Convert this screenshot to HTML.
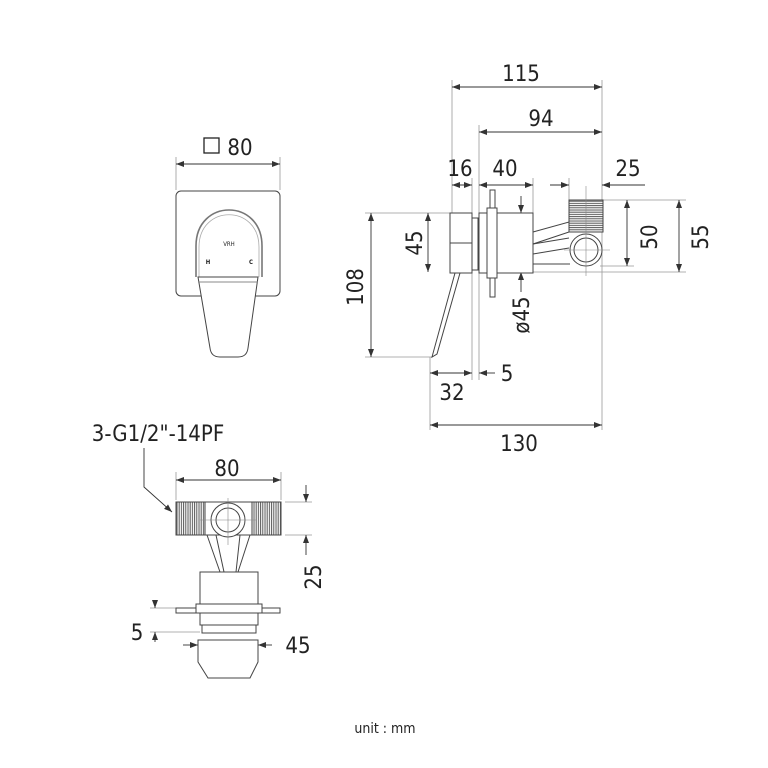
<!DOCTYPE html>
<html><head><style>body{margin:0;background:#fff}svg{display:block}text{font-family:"DejaVu Sans Condensed","DejaVu Sans","Liberation Sans",sans-serif;fill:#222}</style></head><body>
<svg width="768" height="768" viewBox="0 0 768 768" xmlns="http://www.w3.org/2000/svg">
<defs>
<marker id="a" markerWidth="8" markerHeight="6" refX="8" refY="3" orient="auto-start-reverse" markerUnits="userSpaceOnUse"><path d="M0,0L8,3L0,6z" fill="#333"/></marker>
<pattern id="th" width="2.2" height="4" patternUnits="userSpaceOnUse"><rect width="2.2" height="4" fill="#fff"/><line x1="1" y1="0" x2="1" y2="4" stroke="#555" stroke-width="1"/></pattern>
<pattern id="tv" width="4" height="2.2" patternUnits="userSpaceOnUse"><rect width="4" height="2.2" fill="#fff"/><line x1="0" y1="1" x2="4" y2="1" stroke="#555" stroke-width="1"/></pattern>
</defs>
<g stroke="#999" stroke-width="0.8" fill="none">
<line x1="452" y1="80" x2="452" y2="213"/><line x1="479" y1="125" x2="479" y2="380"/><line x1="602" y1="80" x2="602" y2="430"/>
<line x1="472" y1="178" x2="472" y2="380"/><line x1="533" y1="178" x2="533" y2="213"/><line x1="569" y1="178" x2="569" y2="200"/>
<line x1="365" y1="213" x2="450" y2="213"/><line x1="365" y1="357" x2="432" y2="357"/>
<line x1="602" y1="200" x2="686" y2="200"/><line x1="533" y1="272" x2="686" y2="272"/><line x1="600" y1="266" x2="634" y2="266"/>
<line x1="430" y1="357" x2="430" y2="430"/>
<line x1="176" y1="472" x2="176" y2="500"/><line x1="281" y1="472" x2="281" y2="500"/>
<line x1="285" y1="502" x2="312" y2="502"/><line x1="285" y1="535" x2="312" y2="535"/>
<line x1="150" y1="608" x2="195" y2="608"/><line x1="150" y1="632" x2="200" y2="632"/>
<line x1="176" y1="157" x2="176" y2="190"/><line x1="280" y1="157" x2="280" y2="190"/>
</g>
<g stroke="#333" stroke-width="0.9" fill="none">
<line x1="452" y1="87" x2="602" y2="87" marker-start="url(#a)" marker-end="url(#a)"/>
<line x1="479" y1="132" x2="602" y2="132" marker-start="url(#a)" marker-end="url(#a)"/>
<line x1="452" y1="185" x2="472" y2="185" marker-start="url(#a)" marker-end="url(#a)"/>
<line x1="479" y1="185" x2="533" y2="185" marker-start="url(#a)" marker-end="url(#a)"/>
<line x1="550" y1="185" x2="569" y2="185" marker-end="url(#a)"/>
<line x1="645" y1="185" x2="602" y2="185" marker-end="url(#a)"/>
<line x1="428" y1="213" x2="428" y2="272" marker-start="url(#a)" marker-end="url(#a)"/>
<line x1="371" y1="213" x2="371" y2="357" marker-start="url(#a)" marker-end="url(#a)"/>
<line x1="627" y1="200" x2="627" y2="266" marker-start="url(#a)" marker-end="url(#a)"/>
<line x1="679" y1="200" x2="679" y2="272" marker-start="url(#a)" marker-end="url(#a)"/>
<line x1="521" y1="196" x2="521" y2="213" marker-end="url(#a)"/>
<line x1="521" y1="292" x2="521" y2="272" marker-end="url(#a)"/>
<line x1="430" y1="373" x2="472" y2="373" marker-start="url(#a)" marker-end="url(#a)"/>
<line x1="495" y1="373" x2="479" y2="373" marker-end="url(#a)"/>
<line x1="430" y1="425" x2="602" y2="425" marker-start="url(#a)" marker-end="url(#a)"/>
<line x1="176" y1="164" x2="280" y2="164" marker-start="url(#a)" marker-end="url(#a)"/>
<line x1="176" y1="480" x2="281" y2="480" marker-start="url(#a)" marker-end="url(#a)"/>
<line x1="306" y1="485" x2="306" y2="502" marker-end="url(#a)"/>
<line x1="306" y1="555" x2="306" y2="535" marker-end="url(#a)"/>
<line x1="155" y1="600" x2="155" y2="608" marker-end="url(#a)"/>
<line x1="155" y1="642" x2="155" y2="632" marker-end="url(#a)"/>
<line x1="183" y1="645" x2="198" y2="645" marker-end="url(#a)"/>
<line x1="272" y1="645" x2="258" y2="645" marker-end="url(#a)"/>
<polyline points="144,448 144,487 172,512" marker-end="url(#a)"/>
</g>
<g stroke="#444" stroke-width="1" fill="#fff">
<rect x="450" y="213" width="22" height="60"/><line x1="450" y1="243" x2="472" y2="243"/>
<rect x="472" y="218" width="6" height="52"/>
<path d="M533,232 L569,222 L569,232 L533,244 Z"/><path d="M533,244 L569,238 M533,254 L569,248 M533,264 L570,264"/>
<rect x="479" y="213" width="54" height="60"/>
<rect x="490" y="190" width="5" height="107"/>
<rect x="487" y="208" width="10" height="70"/>
<rect x="569" y="200" width="34" height="32" fill="url(#tv)"/>
<circle cx="586" cy="250" r="16"/><circle cx="586" cy="250" r="12"/>
<path d="M455,273 L460,273 L437,354 L432,357 Z"/>
</g>
<g stroke="#888" stroke-width="0.6"><line x1="586" y1="186" x2="586" y2="276"/><line x1="564" y1="250" x2="610" y2="250"/></g>
<rect x="176" y="191" width="104" height="105" rx="5" fill="#fff" stroke="#444" stroke-width="1"/>
<path d="M196,277 L196,246 C196,198 262,198 262,246 L262,277" fill="none" stroke="#777" stroke-width="1.6"/>
<path d="M199,277 L199,247 C199,204 259,204 259,247 L259,277" fill="none" stroke="#aaa" stroke-width="0.8"/>
<path d="M198,277 L258,277 L248,348 Q247,357 238,357 L220,357 Q211,357 210,348 Z" fill="#fff" stroke="#444" stroke-width="1"/>
<line x1="198" y1="282" x2="258" y2="282" stroke="#888" stroke-width="1"/>
<text x="229" y="246" font-size="6" text-anchor="middle">VRH</text>
<text x="208" y="264" font-size="6" text-anchor="middle" font-weight="bold">H</text>
<text x="251" y="264" font-size="6" text-anchor="middle" font-weight="bold">C</text>
<g stroke="#444" stroke-width="1" fill="#fff">
<path d="M207,535 L220,572 M216,535 L224,572 M240,535 L236,572 M250,535 L238,572"/>
<rect x="176" y="502" width="29" height="33" fill="url(#th)"/>
<rect x="252" y="502" width="29" height="33" fill="url(#th)"/>
<path d="M205,502 L252,502 L252,535 L205,535 Z"/>
<circle cx="228" cy="520" r="17"/><circle cx="228" cy="520" r="12"/>
<rect x="200" y="572" width="58" height="36"/>
<rect x="176" y="608" width="104" height="5"/>
<rect x="196" y="604" width="66" height="9"/>
<rect x="200" y="613" width="58" height="12"/>
<rect x="202" y="625" width="54" height="8"/>
<path d="M198,640 L258,640 L258,662 L250,678 L208,678 L198,662 Z"/>
</g>
<g stroke="#888" stroke-width="0.6"><line x1="228" y1="498" x2="228" y2="545"/><line x1="200" y1="520" x2="256" y2="520"/></g>
<g font-size="22" text-anchor="middle">
<text x="521" y="81">115</text><text x="541" y="126">94</text>
<text x="460" y="176">16</text><text x="505" y="176">40</text><text x="628" y="176">25</text>
<text x="452" y="400">32</text><text x="507" y="381">5</text><text x="519" y="451">130</text>
<text transform="translate(422,243) rotate(-90)">45</text>
<text transform="translate(363,287) rotate(-90)">108</text>
<text transform="translate(657,237) rotate(-90)">50</text>
<text transform="translate(708,237) rotate(-90)">55</text>
<text transform="translate(529,315) rotate(-90)">ø45</text>
<text x="240" y="155">80</text>
<text x="158" y="441">3-G1/2"-14PF</text>
<text x="227" y="476">80</text>
<text transform="translate(321,577) rotate(-90)">25</text>
<text x="137" y="640">5</text><text x="298" y="653">45</text>
</g>
<rect x="204" y="138" width="15" height="15" fill="none" stroke="#222" stroke-width="1.3"/>
<text x="385" y="733" font-size="14" text-anchor="middle">unit : mm</text>
</svg>
</body></html>
